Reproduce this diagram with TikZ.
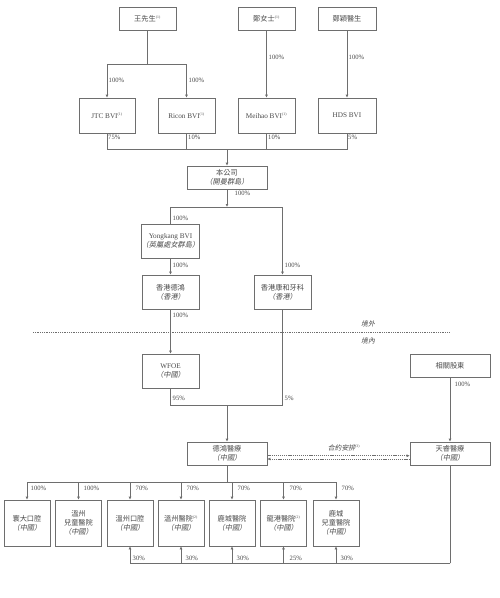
\documentclass[tikz,border=0pt]{standalone}
\usepackage{fontspec}
\setmainfont{Liberation Serif}
\newfontfamily\cjk{Noto Sans CJK TC}
\newfontfamily\cjkit[FakeSlant=0.2]{Noto Sans CJK TC}
\usetikzlibrary{arrows.meta}
\definecolor{lnc}{HTML}{6E6E6E}
\definecolor{txc}{HTML}{4A4A4A}
\newcommand\mysups[1]{\textsuperscript{\fontsize{3.8}{4}\selectfont(#1)}}
\tikzset{
  box/.style={draw=lnc, line width=0.6pt, fill=white, text=txc, align=center, inner sep=0pt,
    font=\fontsize{7.2}{9}\selectfont},
  sbox/.style={box, minimum width=57pt, minimum height=23pt},
  mbox/.style={box, minimum width=57pt, minimum height=34pt},
  wbox/.style={box, minimum width=80pt, minimum height=23pt},
  bbox/.style={box, minimum width=46pt, minimum height=46pt},
  pct/.style={text=txc, font=\fontsize{6.6}{7}\selectfont, anchor=west, inner sep=0.5pt},
  lnst/.style={draw=lnc, line width=0.6pt},
  arr/.style={lnst, -{Latex[length=3pt,width=2.8pt]}},
  darr/.style={draw=lnc, line width=0.5pt, dash pattern=on 1.2pt off 0.9pt, -{Latex[length=3pt,width=2.8pt]}},
  note/.style={text=txc, font=\fontsize{6.8}{8}\selectfont, inner sep=0pt}
}
\begin{document}
\begin{tikzpicture}[x=1pt,y=-1pt]
\useasboundingbox (0,0) rectangle (500,598);
\fill[white] (0,0) rectangle (500,598);
% top row
\node[sbox] (wang) at (147.5,18.5) {{\cjk 王先生}\mysups{1}};
\node[sbox] (zheng) at (266.5,18.5) {{\cjk 鄭女士}\mysups{1}};
\node[box, minimum width=58pt, minimum height=23pt] (zy) at (347,18.5) {{\cjk 鄭穎醫生}};
% BVI row
\node[box, minimum width=56pt, minimum height=35pt] (jtc) at (107,115.5) {JTC BVI\mysups{1}};
\node[box, minimum width=57pt, minimum height=35pt] (ricon) at (186.5,115.5) {Ricon BVI\mysups{1}};
\node[box, minimum width=57pt, minimum height=35pt] (meihao) at (266.5,115.5) {Meihao BVI\mysups{1}};
\node[box, minimum width=58pt, minimum height=35pt] (hds) at (347,115.5) {HDS BVI};
% company
\node[wbox] (comp) at (227,177.5) {{\cjk 本公司}\\{\cjkit （開曼群島）}};
\node[mbox] (yong) at (170.5,241) {Yongkang BVI\\{\cjkit （英屬處女群島）}};
\node[mbox] (hkdh) at (170.5,292) {{\cjk 香港德鴻}\\{\cjkit （香港）}};
\node[mbox] (hkkh) at (282.5,292) {{\cjk 香港康和牙科}\\{\cjkit （香港）}};
\node[mbox] (wfoe) at (170.5,371) {WFOE\\{\cjkit （中國）}};
\node[wbox] (rel) at (450,365.5) {{\cjk 相關股東}};
\node[wbox] (dhyl) at (227,453.5) {{\cjk 德鴻醫療}\\{\cjkit （中國）}};
\node[wbox] (tr) at (450,453.5) {{\cjk 天睿醫療}\\{\cjkit （中國）}};
% bottom row
\node[bbox] (b1) at (27,523) {{\cjk 寰大口腔}\\{\cjkit （中國）}};
\node[bbox] (b2) at (78.5,523) {{\cjk 溫州}\\{\cjk 兒童醫院}\\{\cjkit （中國）}};
\node[bbox] (b3) at (130,523) {{\cjk 溫州口腔}\\{\cjkit （中國）}};
\node[bbox] (b4) at (181,523) {{\cjk 溫州醫院}\mysups{2}\\{\cjkit （中國）}};
\node[bbox] (b5) at (232,523) {{\cjk 鹿城醫院}\\{\cjkit （中國）}};
\node[bbox] (b6) at (283.5,523) {{\cjk 龍港醫院}\mysups{2}\\{\cjkit （中國）}};
\node[bbox] (b7) at (336,523) {{\cjk 鹿城}\\{\cjk 兒童醫院}\\{\cjkit （中國）}};
% junctions
\coordinate (wj) at (147.5,64);
\coordinate (bus) at (227,149);
\coordinate (cj) at (227,207);
\coordinate (dj) at (227,405);
\coordinate (bj) at (227,482);
\coordinate (tj) at (450,563);
% connectors top
\draw[lnst] (wang) -- (wj);
\draw[arr] (wj) -| (jtc);
\draw[arr] (wj) -| (ricon);
\draw[arr] (zheng) -- (meihao);
\draw[arr] (zy) -- (hds);
\draw[lnst] (jtc) |- (bus);
\draw[lnst] (hds) |- (bus);
\draw[lnst] (ricon) -- (ricon |- bus);
\draw[lnst] (meihao) -- (meihao |- bus);
\draw[arr] (bus) -- (comp);
\draw[arr] (comp) -- (cj);
\draw[lnst] (cj) -| (yong);
\draw[arr] (cj) -| (hkkh);
\draw[arr] (yong) -- (hkdh);
\draw[arr] (hkdh) -- (wfoe);
\draw[lnst] (wfoe) |- (dj);
\draw[lnst] (hkkh) |- (dj);
\draw[arr] (dj) -- (dhyl);
\draw[arr] (rel) -- (tr);
% contractual
\draw[darr] ([yshift=-2.2pt]dhyl.east) -- ([yshift=-2.2pt]tr.west);
\draw[darr] ([yshift=-5.5pt]tr.west) -- ([yshift=-5.5pt]dhyl.east);
\node[note] (contract) at (344,447.5) {{\cjkit 合約安排}\mysups{3}};
% bottom
\draw[lnst] (dhyl) -- (bj);
\foreach \b in {b1,b2,b3,b4,b5,b6,b7} \draw[arr] (bj) -| (\b);
\draw[lnst] (tr) -- (tj);
\foreach \b in {b3,b4,b5,b6,b7} \draw[arr] (tj) -| (\b);
% border line
\draw[draw=lnc, line width=0.5pt, dash pattern=on 1pt off 0.8pt] (33,332) -- (449,332);
\node[note, font=\fontsize{6.8}{8}\selectfont\cjkit] (jw) at (368,324) {境外};
\node[note, font=\fontsize{6.8}{8}\selectfont\cjkit] (jn) at (368,341) {境內};
% percentages
\node[pct] at (108,80) {100\%};
\node[pct] at (188,80) {100\%};
\node[pct] at (268,57) {100\%};
\node[pct] at (348,57) {100\%};
\node[pct] at (107.5,137) {75\%};
\node[pct] at (187.5,137) {10\%};
\node[pct] at (267.5,137) {10\%};
\node[pct] at (347.5,137) {5\%};
\node[pct] at (234,193) {100\%};
\node[pct] at (172,218) {100\%};
\node[pct] at (172,265.5) {100\%};
\node[pct] at (284,265.5) {100\%};
\node[pct] at (172,315.5) {100\%};
\node[pct] at (172,398) {95\%};
\node[pct] at (284,398) {5\%};
\node[pct] at (454,384) {100\%};
\node[pct] at (30,488) {100\%};
\node[pct] at (83,488) {100\%};
\node[pct] at (135,488) {70\%};
\node[pct] at (186,488) {70\%};
\node[pct] at (237,488) {70\%};
\node[pct] at (289,488) {70\%};
\node[pct] at (341,488) {70\%};
\node[pct] at (132,558) {30\%};
\node[pct] at (185,558) {30\%};
\node[pct] at (236,558) {30\%};
\node[pct] at (289,558) {25\%};
\node[pct] at (340,558) {30\%};
\end{tikzpicture}
\end{document}
